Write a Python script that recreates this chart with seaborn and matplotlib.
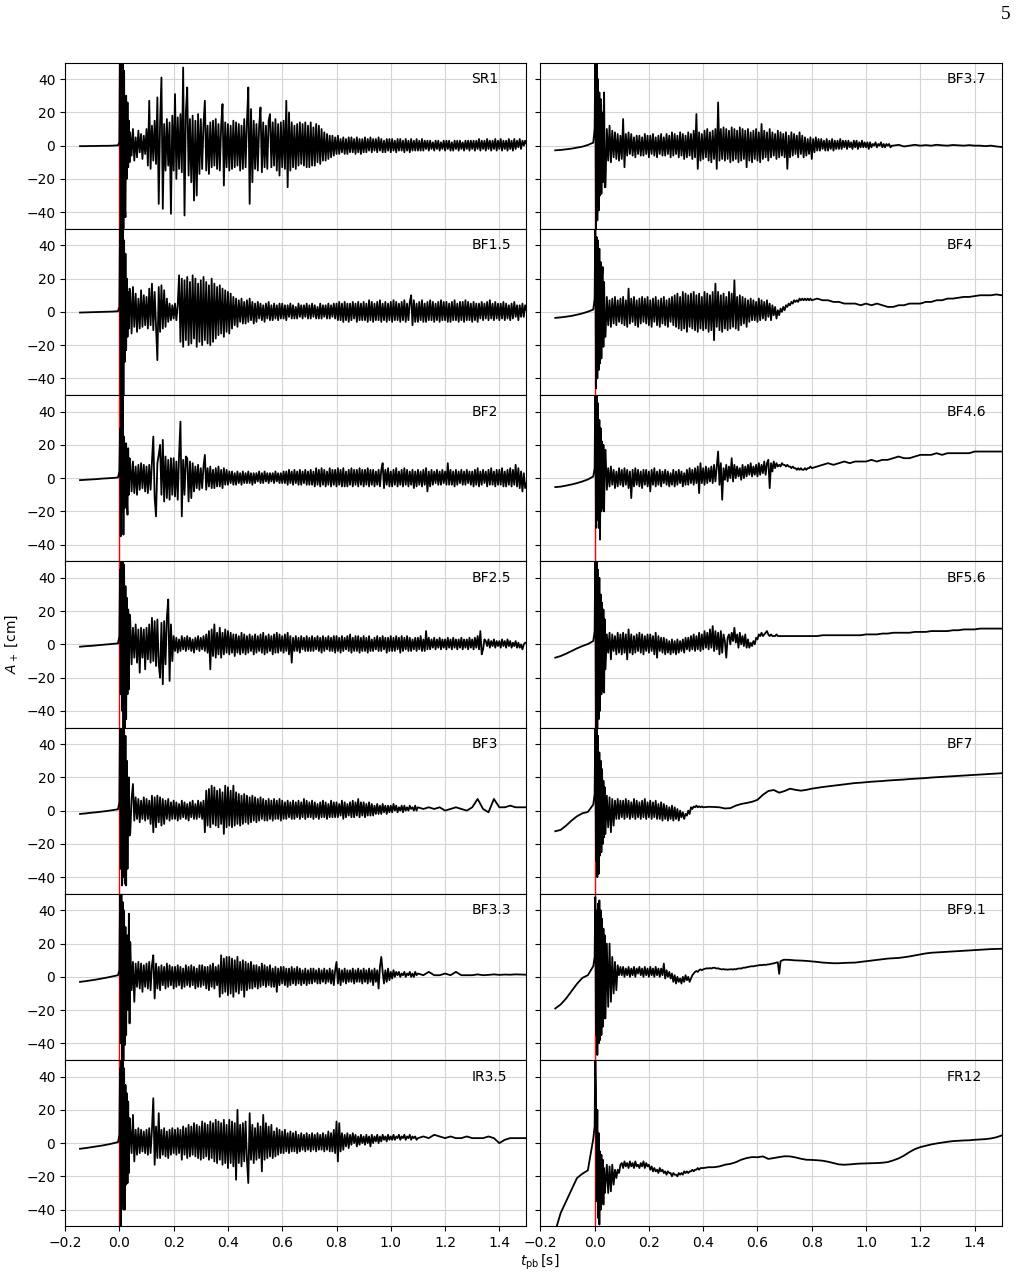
import numpy as np
import matplotlib

matplotlib.use("Agg")
from matplotlib import pyplot as plt
import seaborn as sns

# sampling: collapse (0.02 s), bounce burst (2.5 ms), noisy part (5 ms), smooth tail (0.02 s)
T_EARLY = np.concatenate([-0.145 + np.arange(8) * 0.02, np.arange(16) * 0.0025])

LEFT = ["SR1", "BF1.5", "BF2", "BF2.5", "BF3", "BF3.3", "IR3.5"]
RIGHT = ["BF3.7", "BF4", "BF4.6", "BF5.6", "BF7", "BF9.1", "FR12"]

# A_+ [cm]: collapse + burst + noisy part, then smooth tail
SR1 = [-0.3, -0.3, -0.2, -0.2, -0.1, -0.1, 0, 0.2,
       2, 60, -55, 70, -60, 55, -50, 45, -35, -43, 30, -20, 26, -13, 15, -10,
       8, -6, 10, -9, 5, -7, 9, -4, 7, -8, 6, -5,
       10, -12, 27, -14, 12, -9, 15, -11, 29, -35, 14, 41, -38, 13, -15, 16, -12, 14, -41, 18,
       -15, 31, -20, 17, -14, 19, -16, 47, -42, 20, 35, -18, 16, -22, 18, -33, 15, -30, 19, -17,
       16, -14, 13, 27, -15, 12, -17, 14, -13, 15, -12, 16, -14, 13, -15, 12, 25, -24, 14, -13,
       13, -15, 12, -14, 15, -13, 14, -12, 13, -15, 12, -14, 16, -13, 14, 35, -35, 22, -22, 15,
       -14, 13, -15, 12, 23, -16, 14, -13, 12, -14, 15, 19, -13, 14, -12, 16, -15, 13, -18, 14,
       -13, 15, -14, 27, -25, 20, -15, 14, -13, 12, -14, 13, -12, 14, -11, 13, -12, 14, -13, 12,
       -13, 14, -12, 11, -12, 13, -10, 12, -11, 10, -9, 8, -9, 7, -8, 6, -7, 6, -6, 5,
       -5, 6, -5, 4, -4, 5, -5, 4, -5, 5, -4, 5, -4, 4, -5, 5, -4, 4, -5, 4,
       -4, 5, -4, 4, -3, 5, -4, 4, -3, 4, -4, 5, -3, 4, -4, 3, -4, 4, -3, 4,
       -4, 4, -3, 3, -4, 4, -3, 4, -3, 3, -4, 4, -3, 3, -4, 4, -3, 3, -3, 4,
       -3, 3, -3, 4, -3, 3, -2, 3, -3, 3, -2, 2, -3, 3, -2, 3, -3, 2, -2, 3,
       -3, 3, -2, 3, -3, 2, -3, 3, -2, 3, -3, 3, -2, 2, -3, 3, -2, 3, -3, 3,
       -2, 3, -3, 3, -2, 4, -3, 3, -2, 3, -3, 4, -2, 3, -3, 3, -2, 4, -3, 3,
       -2, 4, -3, 3, -2, 3, -3, 4, -2, 3, -3, 4, -2, 3, -1, 4, -2, 3, 0, 3,
       1]
SR1_TAIL = []

BF1_5 = [-0.4, -0.3, -0.2, -0.1, 0, 0.1, 0.2, 0.4,
         3, 55, -60, 60, -55, 50, -52, 43, -30, 35, -23, 20, -15, 12, -10, 14,
         12, -13, 15, -9, 11, -12, 8, -10, 13, -9, 10, -8,
         9, -10, 14, -8, 17, -11, 12, -9, -29, 15, -12, 16, -10, 13, -9, 8, -6, 5, -5, 4,
         -4, 5, -5, 4, 22, -18, 20, -21, 19, -17, 21, -20, 18, -19, 22, -16, 20, -21, 17, -18,
         19, -20, 21, -17, 18, -19, 16, -20, 20, -18, 17, -16, 15, -14, 16, -13, 14, -15, 13, -12,
         12, -13, 11, -10, 9, -8, 8, -9, 7, -6, 8, -7, 6, -7, 7, -6, 8, -5, 6, -7,
         5, -6, 6, -4, 5, -5, 4, -6, 5, -4, 6, -5, 4, -5, 5, -4, 4, -5, 5, -4,
         5, -4, 4, -5, 4, -3, 5, -4, 4, -4, 3, -4, 5, -3, 4, -4, 4, -3, 5, -4,
         4, -4, 5, -3, 4, -4, 3, -4, 5, -4, 4, -3, 4, -4, 5, -4, 4, -3, 5, -4,
         5, -5, 6, -5, 5, -6, 6, -5, 5, -6, 5, -5, 6, -4, 5, -6, 6, -5, 5, -5,
         6, -5, 5, -6, 7, -5, 6, -6, 5, -5, 6, -5, 7, -6, 5, -5, 6, -6, 5, -5,
         6, -6, 7, -5, 6, -5, 5, -6, 6, -5, 7, -6, 5, -5, 6, 10, -8, 7, -6, 5,
         -6, 6, -5, 7, -6, 5, -6, 6, -5, 7, -5, 6, -6, 5, -5, 6, -6, 7, -5, 6,
         -5, 6, -6, 5, -6, 6, -5, 7, -5, 5, -6, 6, -5, 6, -6, 7, -5, 6, -5, 5,
         -6, 6, -5, 5, -6, 5, -4, 6, -5, 5, -4, 6, -5, 7, -4, 5, -5, 6, -4, 5,
         -5, 5, -4, 6, -5, 5, -4, 4, -5, 5, -4, 6, -3, 4, -5, 4, -3, 5, -3, 4,
         1]
BF1_5_TAIL = []

BF2 = [-1.2, -1.0, -0.8, -0.6, -0.3, -0.1, 0.1, 0.4,
       4, 30, -35, 55, -20, 60, -34, 25, -18, 15, 21, -12, -22, 18, -10, 12,
       9, -8, 10, -9, 7, -10, 8, -7, 9, -6, 8, -8,
       7, -9, 8, -7, 10, 25, -12, -23, 9, 14, 20, -10, 23, -14, 13, -12, 11, -13, 12, -10,
       12, -11, 10, -13, 14, 34, -23, 11, -10, 13, 12, -14, 10, -12, 9, -8, 7, -6, 8, -7,
       6, -6, 7, 14, -7, 6, -5, 7, -6, 5, -6, 6, -5, 7, -5, 5, -6, 6, -4, 5,
       -4, 4, -3, 4, -4, 3, -4, 4, -3, 3, -4, 4, -3, 3, -3, 4, -3, 3, -4, 3,
       -3, 3, -2, 4, -3, 3, -3, 4, -2, 3, -3, 3, -2, 3, -3, 4, -2, 3, -3, 3,
       -3, 4, -3, 4, -4, 5, -3, 4, -4, 5, -3, 4, -4, 5, -4, 4, -3, 5, -4, 4,
       -4, 5, -4, 4, -5, 6, -4, 5, -5, 6, -4, 5, -5, 4, -4, 6, -5, 5, -4, 5,
       -5, 6, -4, 5, -5, 6, -5, 4, -5, 5, -4, 6, -5, 5, -4, 5, -5, 6, -4, 5,
       -5, 5, -4, 6, -5, 5, -4, 5, -5, 4, -4, 5, -5, 5, 9, -6, 5, -4, 6, -5,
       4, -5, 5, -4, 6, -5, 4, -4, 5, -5, 6, -4, 5, -5, 4, -4, 5, -6, 4, -5,
       5, -4, 4, -5, 5, -4, 6, -8, 4, -5, 5, -4, 4, -3, 5, -4, 4, -4, 5, -3,
       4, -4, 9, -4, 5, -4, 4, -5, 5, -4, 4, -3, 5, -4, 4, -4, 5, -3, 4, -4,
       4, -5, 5, -4, 6, -5, 4, -4, 5, -3, 4, -5, 5, -4, 6, -4, 4, -5, 5, -4,
       5, -4, 6, -5, 4, -5, 5, -4, 6, -5, 5, -4, 8, -5, 6, -6, 4, -8, 3, -6,
       -3]
BF2_TAIL = []

BF2_5 = [-1.4, -1.1, -0.9, -0.6, -0.3, 0, 0.3, 0.6,
         5, 45, -30, 60, -40, 55, -55, 48, -60, 35, -45, 28, -30, 21, -27, 18,
         15, -12, 10, -8, 12, -11, 9, -17, 10, -8, 9, -15,
         10, -9, 12, -11, 16, -10, 14, -13, 15, -12, -20, 13, -24, 14, -12, 16, 27, -22, 12, -10,
         5, -4, 4, -5, 3, -4, 5, -3, 4, -4, 5, -3, 4, -4, 3, -5, 4, -3, 5, -4,
         4, -3, 5, -4, 6, -5, 8, -15, 9, -7, 12, -8, 7, -6, 10, -8, 7, -6, 9, -5,
         8, -6, 7, -5, 6, -7, 6, -5, 5, -6, 7, -5, 6, -6, 5, -5, 6, -4, 5, -6,
         6, -5, 5, -4, 6, -5, 7, -6, 5, -5, 6, -4, 5, -6, 6, -5, 7, -5, 6, -4,
         5, -5, 6, -4, 7, -6, 5, -11, 4, -4, 5, -4, 4, -5, 5, -3, 4, -4, 5, -4,
         4, -4, 5, -4, 4, -3, 5, -4, 4, -5, 5, -4, 4, -3, 5, -4, 4, -4, 5, -5,
         5, -4, 4, -5, 5, -4, 4, -3, 5, -4, 6, -5, 4, -4, 5, -4, 5, -5, 4, -4,
         5, -4, 4, -5, 5, -4, 3, -4, 4, -3, 5, -4, 4, -4, 5, -3, 4, -5, 4, -4,
         5, -4, 4, -4, 5, -3, 4, -5, 5, -4, 4, -3, 5, -4, 4, -4, 3, -3, 4, -4,
         4, -3, 5, -4, 3, -4, 8, -3, 4, -3, 3, -2, 4, -3, 3, -2, 4, -3, 3, -2,
         3, -3, 4, -2, 3, -3, 4, -2, 3, -3, 3, -2, 4, -3, 3, -2, 3, -3, 4, -2,
         3, -3, 4, -2, 5, -3, 8, -6, -3, 3, 2, -1, 3, -2, 2, -1, 3, -2, 2, -1,
         2, -2, 3, -1, 2, -2, 3, -1, 2, -2, 1, -1, 2, -2, 1, -2, 0, -3, 0, 1,
         1]
BF2_5_TAIL = []

BF3 = [-2, -1.7, -1.3, -1.0, -0.6, -0.2, 0.3, 0.8,
       5, 55, -35, 60, -45, 65, -40, 55, -44, 45, -45, 30, -35, 15, 20, -15,
       -14, 7, 16, -6, 8, -5, 7, -7, 6, -5, 8, -6,
       7, -5, 6, -8, 9, -13, 8, -10, 9, -7, 8, -9, 7, -8, 6, -5, 7, -6, 5, -5,
       6, -5, 5, -6, 4, -5, 6, -4, 5, -5, 4, -6, 5, -4, 6, -5, 4, -5, 6, -4,
       5, -5, 6, -13, 12, -9, 13, -10, 15, -8, 14, -9, 12, -10, 13, -8, 11, -14, 15, -10,
       14, -9, 12, -10, 15, -9, 11, -8, 10, -9, 9, -8, 10, -7, 9, -8, 8, -7, 9, -6,
       8, -7, 7, -6, 8, -5, 7, -6, 6, -6, 7, -5, 6, -6, 7, -5, 6, -5, 7, -6,
       6, -5, 5, -5, 6, -4, 5, -5, 6, -5, 5, -4, 6, -5, 5, -4, 7, -5, 6, -4,
       5, -4, 6, -5, 5, -4, 4, -5, 5, -4, 6, -4, 5, -5, 4, -4, 6, -4, 5, -4,
       5, -4, 4, -3, 6, -5, 5, -4, 4, -3, 5, -4, 6, -4, 5, -3, 7, -4, 5, -3,
       5, -4, 4, -3, 5, -3, 4, -3, 3, -2, 4, -2, 3, -2, 4, -1, 3, -2, 3, -1,
       3, -1, 4, 0, 3, -1, 2, 0, 3, -1, 3, 0, 2, 0, 3, 1, 2, 0, 3, 0]
BF3_TAIL = [2, 1, 2, 1, 2, 0, 1, 2, 1, 0, 2, 7, 1, -1, 7, 2, 2, 3, 2, 2, 2]

BF3_3 = [-3, -2.6, -2.1, -1.6, -1.0, -0.4, 0.3, 1,
         4, 50, -40, 60, -55, 45, -50, 40, -41, 30, -35, 20, 25, -20, 38, -28,
         21, -8, 9, -15, 8, -6, 9, -7, 8, -9, 7, -6,
         8, -7, 9, -8, 7, 13, -13, 8, -7, 6, -8, 7, -5, 6, -7, 8, -6, 7, -5, 6,
         -7, 6, -6, 7, -5, 6, -7, 5, -6, 7, -5, 6, -6, 7, -5, 6, -7, 5, -6, 7,
         -6, 7, -5, 6, -7, 6, -8, 7, -6, 8, -7, 6, -5, 7, -12, 13, -10, 11, -9, 12,
         -11, 12, -10, 11, -12, 10, -9, 12, -10, 9, -8, 10, -12, 9, -8, 8, -7, 9, -7, 7,
         -6, 7, -7, 6, -6, 8, -5, 7, -6, 6, -5, 7, -6, 5, -6, 6, -9, 5, -5, 6,
         -4, 6, -5, 5, -6, 5, -5, 6, -4, 5, -5, 6, -4, 5, -5, 4, -4, 5, -5, 4,
         -4, 5, -4, 5, -3, 4, -4, 5, -4, 4, -3, 5, -4, 4, -3, 5, -4, 4, -5, 4,
         9, -4, 5, -5, 4, -3, 5, -4, 4, -3, 4, -3, 5, -4, 4, -3, 5, -3, 4, -4,
         5, -3, 4, -4, 5, -3, 4, -5, 5, -3, 4, -7, 6, 12, 3, -4, 4, -3, 5, -2,
         3, -1, 4, 0, 3, 1, 3, 0, 2, 1, 3, 0, 2, 1, 3, 0, 2, 0, 3, 1]
BF3_3_TAIL = [2, 1, 3, 1, 1, 2, 1, 3, 1, 1, 1, 1.5, 1, 1.2, 1.5, 1.2, 1.4, 1.3, 1.5, 1.4, 1.3]

IR3_5 = [-3.4, -3.0, -2.5, -2.0, -1.5, -0.9, -0.2, 0.6,
         5, 45, -50, 55, -35, 50, -40, 45, -40, 35, -25, 30, -24, 25, -18, 15,
         9, -6, 17, -11, 8, -7, 9, -6, 8, -5, 7, -6,
         8, -7, 9, -6, 8, 27, -13, 10, -9, 18, -9, 8, -7, 9, -8, 7, -9, 8, -7, 9,
         -6, 8, -7, 9, -6, 8, -10, 10, -7, 9, -9, 11, -8, 10, -7, 12, -8, 11, -9, 10,
         -10, 13, -9, 12, -8, 11, -10, 13, -9, 12, -11, 14, -12, 13, -10, 12, -13, 14, -12, 11,
         -15, 14, -12, 13, -14, 12, -22, 20, -12, 11, -14, 12, -11, 13, -10, -24, 18, -10, 11, -12,
         9, -10, 12, -9, 10, -17, 17, -10, 12, -9, 10, -8, 11, -9, 7, -8, 9, -7, 8, -6,
         7, -6, 8, -5, 6, -6, 7, -5, 6, -5, 7, -6, 5, -5, 6, -4, 5, -5, 6, -4,
         5, -5, 6, -4, 5, -5, 6, -4, 5, -4, 6, -5, 5, -4, 7, -5, 6, -5, 8, -6,
         13, -11, 12, -5, 6, -4, 5, -2, 6, -3, 5, -1, 6, 0, 5, -2, 4, -1, 5, 0,
         4, -1, 5, 0, 4, -2, 5, 0, 4, 1, 5, 0, 4, 1, 5, 2, 4, 1, 5, 2,
         4, 2, 5, 2, 4, 3, 5, 2, 4, 3, 5, 2, 4, 3, 5, 2, 4, 3, 4, 2]
IR3_5_TAIL = [3, 4, 3, 5, 4, 3, 4, 3, 3, 4, 3, 3, 3, 4, 3, 0, 2, 3, 3, 3, 3]

BF3_7 = [-2.8, -2.6, -2.2, -1.8, -1.2, -0.6, 0.4, 1.8,
         10, 55, -50, 60, -45, 40, -39, 32, -30, 28, -29, 20, -22, 15, 32, -25,
         -25, 10, -9, 12, -10, 9, -7, 8, -8, 7, -9, 6,
         -8, 16, -13, 7, -6, 8, -5, 7, -6, 5, -7, 6, -5, 6, -6, 5, -6, 7, -5, 6,
         -7, 6, -5, 7, -6, 5, -7, 6, -5, 7, -6, 5, -6, 7, -5, 6, -7, 8, -6, 7,
         -5, 6, -7, 8, -6, 7, -8, 6, -7, 8, -6, 7, -8, 9, -7, 19, -14, 8, -9, 7,
         -8, 9, -7, 10, -9, 8, -10, 9, -8, 10, -14, 26, -9, 10, -8, 11, -9, 10, -8, 9,
         -10, 11, -9, 10, -8, 9, -10, 11, -9, 10, -8, 9, -13, 10, -9, 8, -10, 9, -8, 10,
         -9, 8, -10, 13, -8, 9, -7, 8, -9, 10, -7, 8, -6, 7, -8, 9, -7, 8, -6, 7,
         -7, 8, -14, 6, -7, 8, -6, 7, -5, 6, -7, 8, -5, 6, -7, 5, -6, 4, -5, 5,
         -8, 4, -4, 5, -3, 4, -3, 4, -2, 3, -3, 4, -3, 3, -2, 4, -3, 3, -2, 3,
         -2, 4, -2, 3, -1, 3, -2, 3, -1, 2, -2, 3, -1, 3, -2, 2, -1, 3, -1, 2,
         -1, 2, -2, 2, -1, 1, 0, 2, -1, 1, 0, 2, -1, 1, -1, 1, 0, 1, -1, 0]
BF3_7_TAIL = [0, 0.5, -0.5, 0, 0.5, 0, 0.3, 0, 0.5, 0.2, 0, 0.4, 0.2, 0, 0.3, 0, 0, -0.3, 0, -0.5, -0.8]

BF4 = [-3.6, -3.3, -2.9, -2.4, -1.7, -0.9, 0.1, 1.4,
       8, 55, -46, 45, -40, 43, -35, 38, -31, 30, -28, 22, 27, -21, 18, -15,
       -15, 9, -8, 7, -9, 8, -7, 9, -8, 7, -6, 8,
       -7, 9, -8, 7, -9, 14, -7, 8, -6, 9, -8, 7, -9, 8, -7, 9, -6, 8, -7, 9,
       -8, 7, -9, 8, -6, 9, -8, 7, -9, 8, -7, 9, -8, 7, -9, 8, -6, 9, -8, 10,
       -9, 11, -10, 9, -11, 12, -10, 11, -12, 10, -9, 11, -10, 12, -11, 10, -12, 11, -10, 9,
       -11, 12, -10, 11, -12, 10, -11, 12, -17, 17, -9, 12, -11, 10, -12, 11, -10, 9, -11, 12,
       -10, 11, -9, 19, -10, 9, -11, 10, -8, 9, -7, 8, -9, 7, -6, 8, -5, 7, -5, 6,
       -6, 8, -5, 7, -4, 6, -5, 7, -3, 5, -5, 4, -2, 3, -4, 1, -2, 2, 0, 3,
       1, 4, 3, 5, 4, 6, 5, 7, 6, 7, 6, 8, 7, 8, 7, 8, 7, 8, 7, 8]
BF4_TAIL = [7, 8, 7, 7, 6, 6, 5, 5, 5, 4, 5, 4, 5, 4, 3, 3, 4, 4, 5, 5,
            5, 6, 6, 7, 7, 8, 8, 8.5, 9, 9, 9.5, 10, 10, 10, 10.5, 10]

BF4_6 = [-5.4, -5.1, -4.5, -3.8, -3.0, -2.0, -0.8, 1,
         6, 60, -30, 55, -25, 45, -30, 35, -37, 30, -20, 22, -18, 20, -20, 15,
         17, -7, 6, -5, 7, -4, 5, -6, 4, -5, 6, -4,
         5, -5, 6, -4, 5, -6, 4, -12, 5, -5, 6, -4, 5, -5, 4, -6, 5, -4, 5, -5,
         4, -8, 5, -4, 6, -5, 4, -4, 5, -5, 4, -3, 5, -4, 4, -5, 3, -4, 5, -5,
         4, -4, 5, -3, 4, -5, 3, -4, 5, -4, 6, -3, 5, -4, 6, -3, 7, -9, 9, -3,
         6, -4, 7, -3, 6, -2, 7, -3, 8, -2, 7, 16, -4, 9, -13, 6, -1, 8, -2, 7,
         0, 12, -2, 8, 0, 7, 1, 6, -1, 8, 0, 7, 1, 8, 2, 9, 1, 7, 2, 8,
         1, 9, 2, 8, 3, 10, 2, 9, 11, -6, 9, 4, 10, 6, 9, 7, 8, 7, 9, 8,
         8, 7, 8, 7, 7, 6, 7, 6, 6, 5, 6, 5, 6, 5, 5, 6, 5, 6, 6, 7]
BF4_6_TAIL = [6, 7, 8, 9, 8, 9, 10, 9, 10, 10, 10, 11, 10, 11, 11, 12, 13, 12, 12, 13,
              14, 14, 14, 15, 14, 15, 15, 15, 15, 15, 16, 16, 16, 16, 16, 16]

BF5_6 = [-8, -7, -5.6, -4, -2.4, -1, 0.2, 2,
         8, 60, -55, 55, -60, 45, -45, 40, -40, 30, -30, 25, -28, 21, -29, 15,
         -15, 6, -5, 7, -9, 6, -4, 5, -6, 7, -5, 6,
         -6, 7, -5, 6, -9, 9, -5, 6, -6, 5, -5, 6, -4, 7, -5, 6, -6, 5, -4, 6,
         -5, 6, -4, 5, -6, 7, -8, 5, -4, 4, -5, 4, -6, 3, -5, 2, -6, 3, -5, 2,
         -6, 3, -5, 2, -4, 3, -5, 4, -3, 4, -4, 5, -3, 6, -4, 5, -3, 7, -4, 6,
         -3, 8, -2, 7, -3, 9, -2, 11, -4, 8, -3, 7, -6, 8, -5, 6, 2, -8, 4, 6,
         0, 7, 2, 10, 1, 6, -2, 7, 0, 5, -1, 6, -2, 3, -2, 1, -1, 2, 0, 4,
         3, 6, 5, 7, 5, 6, 7, 8, 6, 5, 6, 5, 5, 5, 6, 5, 5, 5, 5, 5]
BF5_6_TAIL = [5, 5, 5, 5, 5, 5, 5, 5.5, 5.5, 5.5, 5.5, 5.5, 5.5, 5.5, 5.5, 6, 6, 6, 6.5, 6.5,
              7, 7, 7, 7, 7.5, 7.5, 7.5, 8, 8, 8, 8, 8.5, 8.5, 9, 9, 9, 9.5, 9.5, 9.5, 9.5, 9.5]

BF7 = [-12.4, -11.6, -9, -6, -3.4, -1.6, -0.8, 3.6,
       10, 55, -30, 60, -40, 45, -38, 35, -27, 30, -25, 25, -20, 18, -16, 14,
       -14, 9, -10, 8, -13, 7, -9, 6, -5, 7, -5, 6,
       -4, 6, -5, 7, -4, 6, -5, 5, -4, 7, -5, 6, -4, 5, -5, 6, -4, 7, -5, 5,
       -4, 6, -5, 5, -4, 6, -5, 4, -5, 5, -6, 4, -5, 3, -6, 2, -5, 3, -6, 2,
       -5, 1, -6, 0, -4, -1, -5, -2, -3, 0, -2, 2, 1, 2.5, 2, 3, 2, 2.6, 2, 2.5]
BF7_TAIL = [2, 2.3, 2.2, 2, 1.3, 1.5, 3, 4, 4.6, 5.3,
            6.5, 9.5, 11.8, 12.4, 10.8, 11.8, 13.2, 12.5, 12, 12.5,
            13.2, 13.7, 14.2, 14.6, 15, 15.4, 15.8, 16.2, 16.6, 16.8,
            17.1, 17.4, 17.6, 17.8, 18.1, 18.3, 18.5, 18.7, 19, 19.2,
            19.4, 19.6, 19.9, 20.1, 20.3, 20.5, 20.7, 20.9, 21.1, 21.3,
            21.5, 21.7, 21.9, 22.1, 22.3, 22.5]

BF9_1 = [-19, -16.6, -13, -8.6, -4.2, -0.6, 1, 6.4,
         12, 48, -35, 40, -47, 44, -40, 46, -38, 40, -35, 35, -30, 29, -25, 25,
         -25, 20, -18, 20, -15, 12, -10, 9, -8, 7, 1, 6,
         1, 6, 0, 5, 1, 6, 0, 5, 1, 6, 0, 5, 2, 6, 1, 5, 0, 6, 1, 5,
         0, 6, 1, 5, 0, 6, 1, 5, 0, 5, 1, 8, -1, 4, 0, 3, -1, 2, -3, 1,
         -4, 0, -3, -1, -4, 0, -3, 1, -2, 0, -3, -1, 1, 2, 3, 3.5, 3, 4, 4.5, 4,
         4.5, 4.8, 5, 5.2, 5, 5.3, 5, 5.4, 5.5, 5.3, 5, 5.2, 4.8, 4.6, 4.5, 4.7, 4.4, 4.5, 4.3, 4.5,
         4.5, 4.6, 4.4, 4.7, 4.5, 4.8, 5, 5.1, 5, 5.4, 5.6, 5.5, 5.8, 6, 6.1, 6.3, 6.4, 6.3, 6.6, 6.7,
         6.8, 7, 7.1, 7, 7.2, 7.3, 7.2, 7.4, 7.5, 7.6, 7.8, 8, 8.1, 8.4, 8.6, 8.8, 1.8, 9.4, 9.8, 10.2]
BF9_1_TAIL = [10.3, 10.2, 9.9, 9.8, 9.6, 9.3, 9, 8.6, 8.4, 8.2,
              8.2, 8.4, 8.5, 8.6, 9, 9.4, 9.8, 10.2, 10.6, 11,
              11.2, 11.4, 11.8, 12.3, 12.9, 13.5, 14.1, 14.5, 14.7, 14.9,
              15.1, 15.3, 15.5, 15.7, 15.9, 16.1, 16.3, 16.5, 16.7, 16.8,
              16.9]

FR12 = [-53, -42, -35, -28, -21, -18.4, -16.4, 2.6,
        10, 55, 34, -35, 20, -45, 6, -49, -5, -40, -7, -35, -10, -37, -15, -30,
        -25, -13, -30, -14, -29, -13, -25, -16, -21, -16, -18, -13,
        -12, -15, -11, -14, -12, -15, -11, -14, -12, -15, -11, -14, -13, -15, -12, -14, -11, -15, -12, -14,
        -13, -16, -14, -17, -15, -17, -16, -18, -15, -17, -16, -18, -17, -19, -17, -18, -18, -20, -18, -19,
        -19, -20, -18, -19, -18, -19, -17, -18, -17, -18, -17, -17, -16, -17, -16, -16, -15, -16, -15, -15]
FR12_TAIL = [-15, -14.5, -14.5, -14, -13, -12.5, -11.5, -10, -9, -8.4,
             -8.5, -8, -9.5, -9, -8.4, -7.9, -8, -8.6, -9.4, -10,
             -10.1, -10.3, -10.6, -11.2, -12, -12.8, -13, -12.8, -12.5, -12.3,
             -12.2, -12.1, -12, -11.8, -11.4, -10.4, -9.2, -7.5, -5.4, -3.6,
             -2.4, -1.6, -0.8, -0.2, 0.3, 0.8, 1.2, 1.4, 1.6, 1.7,
             2, 2.2, 2.4, 2.8, 3.5, 4.6]

SIGNALS = {
    "SR1": (SR1, SR1_TAIL), "BF1.5": (BF1_5, BF1_5_TAIL), "BF2": (BF2, BF2_TAIL),
    "BF2.5": (BF2_5, BF2_5_TAIL), "BF3": (BF3, BF3_TAIL), "BF3.3": (BF3_3, BF3_3_TAIL),
    "IR3.5": (IR3_5, IR3_5_TAIL), "BF3.7": (BF3_7, BF3_7_TAIL), "BF4": (BF4, BF4_TAIL),
    "BF4.6": (BF4_6, BF4_6_TAIL), "BF5.6": (BF5_6, BF5_6_TAIL), "BF7": (BF7, BF7_TAIL),
    "BF9.1": (BF9_1, BF9_1_TAIL), "FR12": (FR12, FR12_TAIL),
}

XTICKS = [-0.2, 0.0, 0.2, 0.4, 0.6, 0.8, 1.0, 1.2, 1.4]
YTICKS = [-40, -20, 0, 20, 40]


def panel_series(head, tail):
    n_noise = len(head) - len(T_EARLY)
    t_noise = 0.04 + np.arange(n_noise) * 0.005
    t_tail = 0.04 + n_noise * 0.005 + np.arange(len(tail)) * 0.02
    t = np.concatenate([T_EARLY, t_noise, t_tail])
    assert abs(t[-1] - 1.5) < 1e-6, (len(head), len(tail), t[-1])
    return t, np.asarray(head + tail, dtype=float)


fig, axes = plt.subplots(7, 2, figsize=(10.17, 12.76), dpi=100, sharex=True, sharey=True,
                         gridspec_kw=dict(hspace=0, wspace=0.03))
fig.subplots_adjust(left=0.064, right=0.985, top=0.951, bottom=0.039)

for col, names in enumerate([LEFT, RIGHT]):
    for row, name in enumerate(names):
        ax = axes[row, col]
        t, a = panel_series(*SIGNALS[name])
        ax.axvline(0.0, color="red", lw=1.0, zorder=1)
        sns.lineplot(x=t, y=a, ax=ax, color="black", lw=1.3, estimator=None, sort=False, zorder=2)
        ax.text(0.88, 0.9, name, transform=ax.transAxes, ha="left", va="center", fontsize=10)
        ax.grid(True, color="#d4d4d4", lw=0.8)
        ax.set_axisbelow(True)
        ax.set(xlabel="", ylabel="")

ax0 = axes[0, 0]
ax0.set_xlim(-0.2, 1.5)
ax0.set_ylim(-50, 50)
ax0.set_xticks(XTICKS)
ax0.set_yticks(YTICKS)

fig.text(0.011, 0.495, r"$A_+$ [cm]", rotation=90, ha="center", va="center", fontsize=10)
fig.text(0.531, 0.011, r"$t_{\rm pb}\,$[s]", ha="center", va="center", fontsize=10)
fig.text(0.989, 0.989, "5", ha="center", va="center", fontsize=14, family="Liberation Serif")

fig.savefig("out.png", dpi=100)
plt.close(fig)
